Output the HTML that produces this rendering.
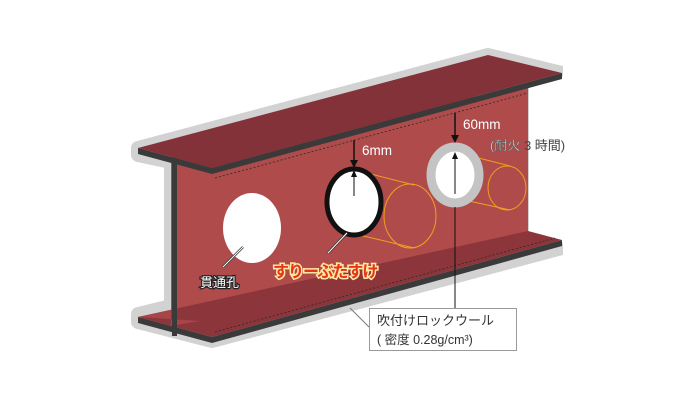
<!DOCTYPE html>
<html><head><meta charset="utf-8"><style>
html,body{margin:0;padding:0;background:#fff;}
svg{display:block;}
text{font-family:"Liberation Sans","Noto Sans CJK JP",sans-serif;}
</style></head><body>
<svg width="700" height="400" viewBox="0 0 700 400" xmlns="http://www.w3.org/2000/svg">
<!-- halo -->
<polygon points="138,148 488,55 562,73 562,248 212,341 138,322 138,314 171,306 171,162 138,155" fill="#d2d2d2" stroke="#d2d2d2" stroke-width="14" stroke-linejoin="round"/>
<polygon points="529,82 600,70 600,250 529,236" fill="#fff"/>
<rect x="563" y="60" width="30" height="200" fill="#fff"/>
<!-- web -->
<polygon points="171,158 528,86 528,234 171,326" fill="#b04b4c"/>
<!-- bottom flange -->
<polygon points="138,317 528,231 562,240 212,337" fill="#8c353b"/>
<polygon points="138,317 171,310 171,326 200,321" fill="#a74548"/>
<polygon points="138,317 212,337 562,240 562,246 212,343 138,323" fill="#3b3a3a"/>
<line x1="215" y1="332" x2="555" y2="238" stroke="#2a2a2a" stroke-width="0.8" stroke-dasharray="2,2"/>
<!-- web edge -->
<rect x="172" y="154" width="5" height="182" fill="#3b3a3a"/>
<!-- top flange -->
<polygon points="138,148 488,55 562,73 212,168" fill="#84323a"/>
<polygon points="138,148 212,168 562,73 562,79 212,174 138,154" fill="#3b3a3a"/>
<line x1="215" y1="178" x2="528" y2="93" stroke="#2a2a2a" stroke-width="0.8" stroke-dasharray="2,2"/>
<!-- hole 1 -->
<ellipse cx="252" cy="228" rx="29" ry="35" fill="#fff"/>
<!-- hole 2 -->
<line x1="355" y1="170" x2="414" y2="185" stroke="#f0a020" stroke-width="1"/>
<line x1="355" y1="234" x2="414" y2="248" stroke="#f0a020" stroke-width="1"/>
<ellipse cx="410" cy="216" rx="26" ry="32" fill="none" stroke="#f0a020" stroke-width="1"/>
<ellipse cx="354" cy="202" rx="27" ry="33" fill="#fff" stroke="#111" stroke-width="5"/>
<!-- hole 3 -->
<line x1="455" y1="152" x2="510" y2="166" stroke="#f0a020" stroke-width="1"/>
<line x1="455" y1="198" x2="510" y2="210" stroke="#f0a020" stroke-width="1"/>
<ellipse cx="507" cy="188" rx="19" ry="22" fill="none" stroke="#f0a020" stroke-width="1"/>
<ellipse cx="455" cy="175" rx="24" ry="28" fill="#fff" stroke="#c4c4c4" stroke-width="9"/>
<!-- arrows -->
<line x1="354" y1="140" x2="354" y2="162" stroke="#111" stroke-width="1.5"/>
<polygon points="350,160 358,160 354,168" fill="#111"/>
<line x1="354" y1="196" x2="354" y2="176" stroke="#111" stroke-width="1"/>
<polygon points="351,177 357,177 354,170" fill="#111"/>
<line x1="455" y1="113" x2="455" y2="137" stroke="#111" stroke-width="1.5"/>
<polygon points="451,135 459,135 455,143" fill="#111"/>
<line x1="455" y1="194" x2="455" y2="158" stroke="#111" stroke-width="1"/>
<polygon points="452,159 458,159 455,152" fill="#111"/>
<text x="362" y="155" font-size="13.5" fill="#fff">6mm</text>
<text x="463" y="129" font-size="13.5" fill="#fff">60mm</text>
<text x="490" y="150" font-size="13" fill="#fff" stroke="#555" stroke-width="0.5">(耐火<tspan fill="#444" stroke="none"> 3 時間)</tspan></text>
<!-- leaders -->
<line x1="455" y1="207" x2="455" y2="308" stroke="#111" stroke-width="1"/>
<line x1="350" y1="308" x2="369" y2="327" stroke="#777" stroke-width="1"/>
<line x1="223" y1="267" x2="243" y2="247" stroke="#333" stroke-width="2.5"/>
<line x1="223" y1="267" x2="243" y2="247" stroke="#fff" stroke-width="1"/>
<line x1="328" y1="253" x2="347" y2="233" stroke="#333" stroke-width="2.5"/>
<line x1="328" y1="253" x2="347" y2="233" stroke="#fff" stroke-width="1"/>
<text x="200" y="287" font-size="13" fill="#fff" stroke="#222" stroke-width="2.5" paint-order="stroke">貫通孔</text>
<text x="273" y="277" font-size="16" font-weight="bold" fill="#e8331c" stroke="#ffe9a0" stroke-width="3" paint-order="stroke" letter-spacing="-1">すりーぶたすけ</text>
<!-- box -->
<rect x="369.5" y="308.5" width="147" height="42" fill="#fff" stroke="#999" stroke-width="1"/>
<text x="377" y="325" font-size="13" fill="#333">吹付けロックウール</text>
<text x="377" y="344" font-size="12.5" fill="#333">( 密度 0.28g/cm³)</text>
</svg>
</body></html>
